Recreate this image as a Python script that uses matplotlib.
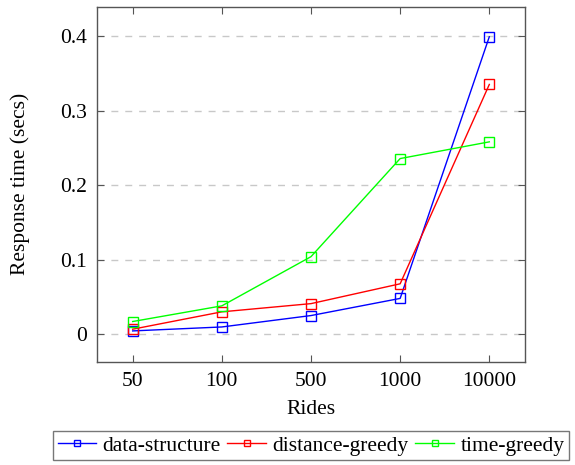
import numpy as np
import matplotlib.pyplot as plt

plt.rcParams['font.family'] = ['Liberation Serif', 'DejaVu Serif']

rides = ['50', '100', '500', '1000', '10000']
data_structure = [0.0044, 0.0097, 0.025, 0.048, 0.399]
distance_greedy = [0.0067, 0.030, 0.041, 0.0676, 0.335]
time_greedy = [0.017, 0.038, 0.104, 0.2356, 0.258]

fig = plt.figure(figsize=(5.75, 4.65), dpi=100)
ax = fig.add_axes([0.1687, 0.2215, 0.7443, 0.7641])

x = np.arange(len(rides))
for ys, col, lab in [(data_structure, 'blue', 'data-structure'),
                     (distance_greedy, 'red', 'distance-greedy'),
                     (time_greedy, '#00ff00', 'time-greedy')]:
    ax.plot(x, ys, color=col, lw=1.0, marker='s', ms=7, mfc='none',
            mec=col, mew=1.0, label=lab)

ax.set_xlim(-0.4, 4.4)
ax.set_ylim(-0.0373, 0.4393)
ax.set_xticks(x)
ax.set_xticklabels(rides)
ax.set_yticks([0, 0.1, 0.2, 0.3, 0.4])
ax.set_yticklabels(['0', '0.1', '0.2', '0.3', '0.4'])
ax.yaxis.grid(True, color='#c8c8c8', ls=(0, (5, 5)), lw=1.0)
ax.set_axisbelow(True)

ax.tick_params(direction='in', length=5, width=0.8, color='#555555',
               top=True, right=True, labelsize=15.5, pad=7)
for s in ax.spines.values():
    s.set_color('#555555')
    s.set_linewidth(1.0)

ax.set_xlabel('Rides', fontsize=15.5, labelpad=7)
ax.set_ylabel('Response time (secs)', fontsize=15.5, labelpad=22)

leg = ax.legend(loc='upper center', bbox_to_anchor=(0.5, -0.195), ncol=3,
                fontsize=15.5, frameon=True, fancybox=False, handlelength=1.8,
                handletextpad=0.3, columnspacing=0.3, borderpad=0.2,
                borderaxespad=0, edgecolor='#555555', markerscale=0.7)
leg.get_frame().set_linewidth(1.0)

fig.savefig('out.png', dpi=100)
